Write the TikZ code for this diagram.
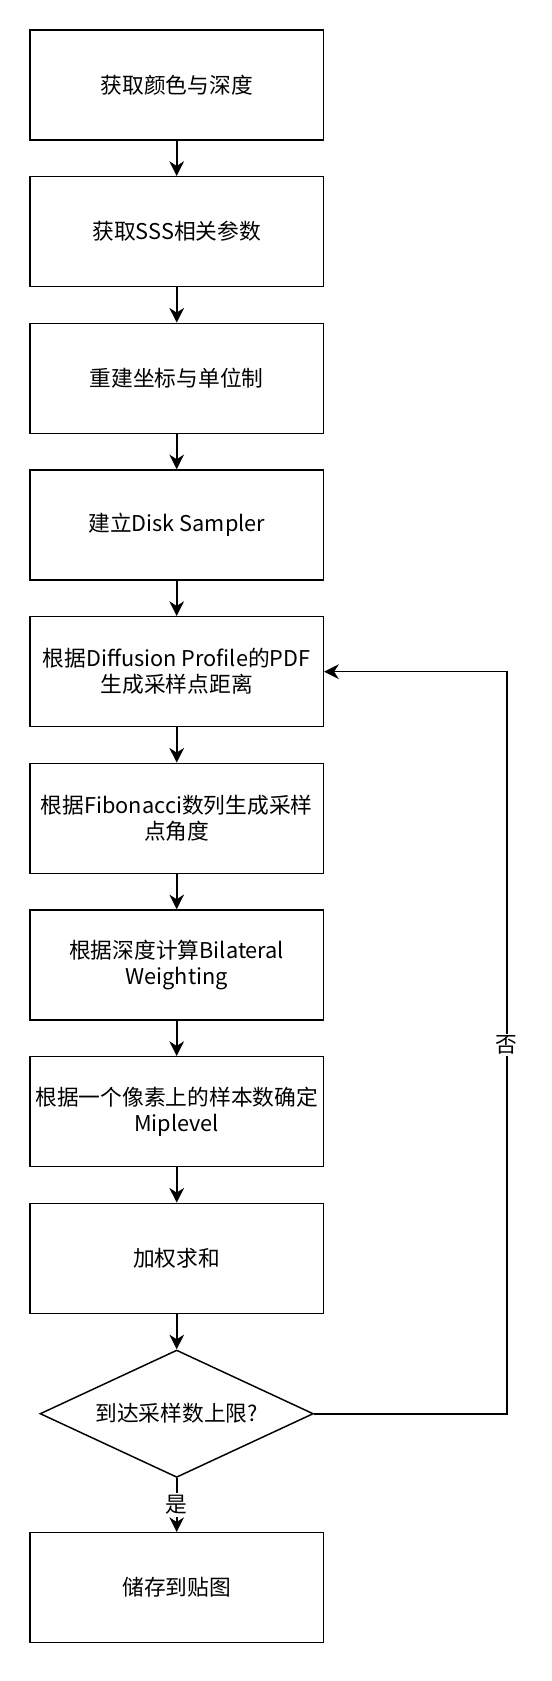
\documentclass[tikz,border=0pt]{standalone}
\usepackage{fontspec}
\setmainfont{Noto Sans CJK SC}
\usetikzlibrary{shapes.geometric,arrows.meta}
\begin{document}
\begin{tikzpicture}[x=0.75pt,y=-0.75pt,
  font=\fontsize{16.3}{19.6}\selectfont,
  stepbox/.style={draw,line width=1.1pt,minimum width=220pt,minimum height=82.5pt,inner sep=0pt,align=center},
  decision/.style={draw,diamond,line width=1.1pt,minimum width=205pt,minimum height=95.5pt,inner sep=0pt,shape aspect=2.15},
  conn/.style={line width=1.2pt,-{Stealth[length=11pt,width=11pt,inset=3.5pt]}},
  lbl/.style={fill=white,inner sep=1.5pt}]
\useasboundingbox (0,0) rectangle (552,1681);
\node[stepbox] (b1) at (176.7,85) {获取颜色与深度};
\node[stepbox] (b2) at (176.7,231.67) {获取SSS相关参数};
\node[stepbox] (b3) at (176.7,378.33) {重建坐标与单位制};
\node[stepbox] (b4) at (176.7,525) {建立Disk Sampler};
\node[stepbox] (b5) at (176.7,671.67) {根据Diffusion Profile的PDF\\生成采样点距离};
\node[stepbox] (b6) at (176.7,818.33) {根据Fibonacci数列生成采样\\点角度};
\node[stepbox] (b7) at (176.7,965) {根据深度计算Bilateral\\Weighting};
\node[stepbox] (b8) at (176.7,1111.67) {根据一个像素上的样本数确定\\Miplevel};
\node[stepbox] (b9) at (176.7,1258.33) {加权求和};
\node[decision] (d) at (176.7,1413.7) {到达采样数上限?};
\node[stepbox] (b10) at (176.7,1587.7) {储存到贴图};
\coordinate (c1) at (506.7,1413.7);
\coordinate (c2) at (506.7,671.67);
\draw[conn] (b1) -- (b2);
\draw[conn] (b2) -- (b3);
\draw[conn] (b3) -- (b4);
\draw[conn] (b4) -- (b5);
\draw[conn] (b5) -- (b6);
\draw[conn] (b6) -- (b7);
\draw[conn] (b7) -- (b8);
\draw[conn] (b8) -- (b9);
\draw[conn] (b9) -- (d);
\draw[conn] (d.south) -- node[lbl,pos=0.5] {是} (b10.north);
\draw[conn] (d.east) -- (c1) -- node[lbl,pos=0.497] {否} (c2) -- (b5.east);
\end{tikzpicture}
\end{document}
